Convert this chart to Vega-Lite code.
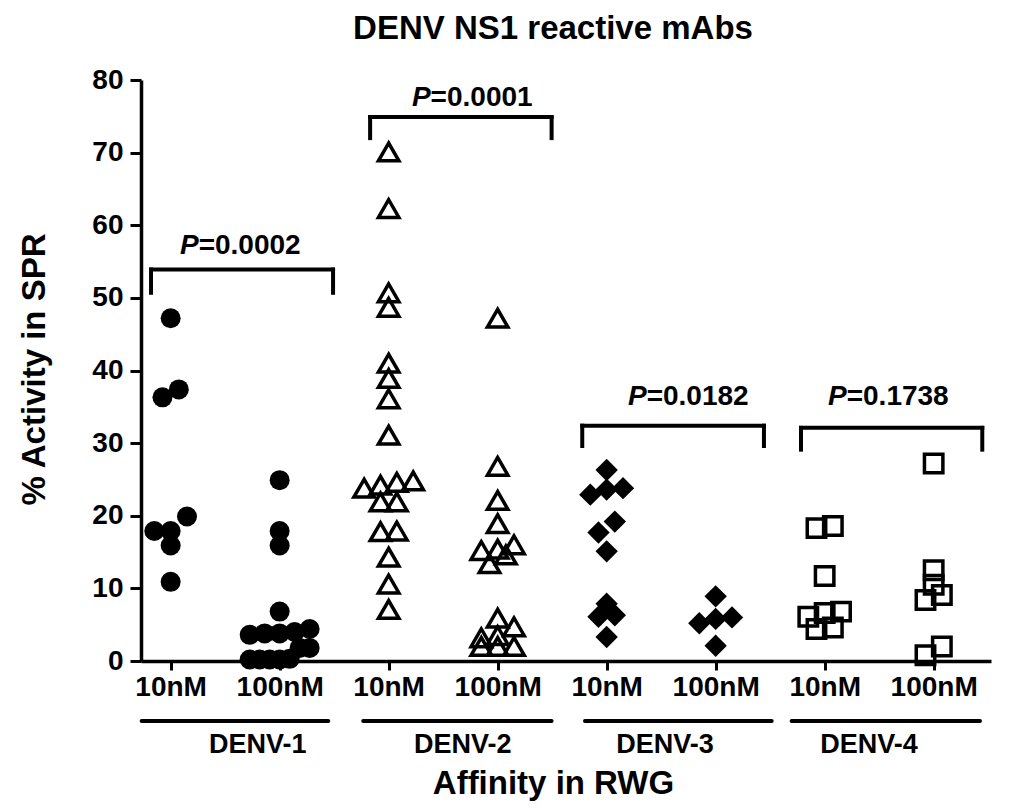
{
 "$schema": "https://vega.github.io/schema/vega-lite/v6.json",
 "autosize": {"type": "none"},
 "padding": {"left": 141, "top": 80, "right": 33, "bottom": 151},
 "width": 850,
 "height": 581,
 "background": "white",
 "config": {
  "view": {"stroke": null},
  "font": "Liberation Sans",
  "axis": {"domainColor": "black", "domainWidth": 3.5, "tickColor": "black", "tickWidth": 3, "tickSize": 9, "labelColor": "black", "labelFont": "Liberation Sans", "labelFontWeight": "bold", "titleColor": "black", "titleFont": "Liberation Sans", "titleFontWeight": "bold", "grid": false, "labelOverlap": false, "labelFlush": false, "labelBound": false}
 },
 "title": {"text": "DENV NS1 reactive mAbs", "font": "Liberation Sans", "fontSize": 33, "fontWeight": "bold", "color": "black", "anchor": "middle", "frame": "group", "dx": -13, "offset": 20},
 "datasets": {
  "pts": [
   {"serotype": "DENV-1", "affinity": "10nM", "value": 47.2},
   {"serotype": "DENV-1", "affinity": "10nM", "value": 37.4},
   {"serotype": "DENV-1", "affinity": "10nM", "value": 36.3},
   {"serotype": "DENV-1", "affinity": "10nM", "value": 19.9},
   {"serotype": "DENV-1", "affinity": "10nM", "value": 17.9},
   {"serotype": "DENV-1", "affinity": "10nM", "value": 17.9},
   {"serotype": "DENV-1", "affinity": "10nM", "value": 15.9},
   {"serotype": "DENV-1", "affinity": "10nM", "value": 10.9},
   {"serotype": "DENV-1", "affinity": "100nM", "value": 24.9},
   {"serotype": "DENV-1", "affinity": "100nM", "value": 17.9},
   {"serotype": "DENV-1", "affinity": "100nM", "value": 15.9},
   {"serotype": "DENV-1", "affinity": "100nM", "value": 6.8},
   {"serotype": "DENV-1", "affinity": "100nM", "value": 4.4},
   {"serotype": "DENV-1", "affinity": "100nM", "value": 4.0},
   {"serotype": "DENV-1", "affinity": "100nM", "value": 3.8},
   {"serotype": "DENV-1", "affinity": "100nM", "value": 3.8},
   {"serotype": "DENV-1", "affinity": "100nM", "value": 3.6},
   {"serotype": "DENV-1", "affinity": "100nM", "value": 1.8},
   {"serotype": "DENV-1", "affinity": "100nM", "value": 1.8},
   {"serotype": "DENV-1", "affinity": "100nM", "value": 0.3},
   {"serotype": "DENV-1", "affinity": "100nM", "value": 0.2},
   {"serotype": "DENV-1", "affinity": "100nM", "value": 0.2},
   {"serotype": "DENV-1", "affinity": "100nM", "value": 0.2},
   {"serotype": "DENV-1", "affinity": "100nM", "value": 0.2},
   {"serotype": "DENV-2", "affinity": "10nM", "value": 70.1},
   {"serotype": "DENV-2", "affinity": "10nM", "value": 62.3},
   {"serotype": "DENV-2", "affinity": "10nM", "value": 50.7},
   {"serotype": "DENV-2", "affinity": "10nM", "value": 48.7},
   {"serotype": "DENV-2", "affinity": "10nM", "value": 41.0},
   {"serotype": "DENV-2", "affinity": "10nM", "value": 38.9},
   {"serotype": "DENV-2", "affinity": "10nM", "value": 36.1},
   {"serotype": "DENV-2", "affinity": "10nM", "value": 31.1},
   {"serotype": "DENV-2", "affinity": "10nM", "value": 24.8},
   {"serotype": "DENV-2", "affinity": "10nM", "value": 24.6},
   {"serotype": "DENV-2", "affinity": "10nM", "value": 24.2},
   {"serotype": "DENV-2", "affinity": "10nM", "value": 23.8},
   {"serotype": "DENV-2", "affinity": "10nM", "value": 21.9},
   {"serotype": "DENV-2", "affinity": "10nM", "value": 21.9},
   {"serotype": "DENV-2", "affinity": "10nM", "value": 17.9},
   {"serotype": "DENV-2", "affinity": "10nM", "value": 17.8},
   {"serotype": "DENV-2", "affinity": "10nM", "value": 14.3},
   {"serotype": "DENV-2", "affinity": "10nM", "value": 10.6},
   {"serotype": "DENV-2", "affinity": "10nM", "value": 7.1},
   {"serotype": "DENV-2", "affinity": "100nM", "value": 47.2},
   {"serotype": "DENV-2", "affinity": "100nM", "value": 26.8},
   {"serotype": "DENV-2", "affinity": "100nM", "value": 22.1},
   {"serotype": "DENV-2", "affinity": "100nM", "value": 18.9},
   {"serotype": "DENV-2", "affinity": "100nM", "value": 16.0},
   {"serotype": "DENV-2", "affinity": "100nM", "value": 15.4},
   {"serotype": "DENV-2", "affinity": "100nM", "value": 15.2},
   {"serotype": "DENV-2", "affinity": "100nM", "value": 14.6},
   {"serotype": "DENV-2", "affinity": "100nM", "value": 13.4},
   {"serotype": "DENV-2", "affinity": "100nM", "value": 5.9},
   {"serotype": "DENV-2", "affinity": "100nM", "value": 4.7},
   {"serotype": "DENV-2", "affinity": "100nM", "value": 3.5},
   {"serotype": "DENV-2", "affinity": "100nM", "value": 3.2},
   {"serotype": "DENV-2", "affinity": "100nM", "value": 2.0},
   {"serotype": "DENV-2", "affinity": "100nM", "value": 2.0},
   {"serotype": "DENV-2", "affinity": "100nM", "value": 2.0},
   {"serotype": "DENV-3", "affinity": "10nM", "value": 26.3},
   {"serotype": "DENV-3", "affinity": "10nM", "value": 23.8},
   {"serotype": "DENV-3", "affinity": "10nM", "value": 23.6},
   {"serotype": "DENV-3", "affinity": "10nM", "value": 22.9},
   {"serotype": "DENV-3", "affinity": "10nM", "value": 19.2},
   {"serotype": "DENV-3", "affinity": "10nM", "value": 17.7},
   {"serotype": "DENV-3", "affinity": "10nM", "value": 15.1},
   {"serotype": "DENV-3", "affinity": "10nM", "value": 7.9},
   {"serotype": "DENV-3", "affinity": "10nM", "value": 6.3},
   {"serotype": "DENV-3", "affinity": "10nM", "value": 6.1},
   {"serotype": "DENV-3", "affinity": "10nM", "value": 3.3},
   {"serotype": "DENV-3", "affinity": "100nM", "value": 8.9},
   {"serotype": "DENV-3", "affinity": "100nM", "value": 6.0},
   {"serotype": "DENV-3", "affinity": "100nM", "value": 5.8},
   {"serotype": "DENV-3", "affinity": "100nM", "value": 5.2},
   {"serotype": "DENV-3", "affinity": "100nM", "value": 2.1},
   {"serotype": "DENV-4", "affinity": "10nM", "value": 18.6},
   {"serotype": "DENV-4", "affinity": "10nM", "value": 18.3},
   {"serotype": "DENV-4", "affinity": "10nM", "value": 11.7},
   {"serotype": "DENV-4", "affinity": "10nM", "value": 6.8},
   {"serotype": "DENV-4", "affinity": "10nM", "value": 6.6},
   {"serotype": "DENV-4", "affinity": "10nM", "value": 6.1},
   {"serotype": "DENV-4", "affinity": "10nM", "value": 4.6},
   {"serotype": "DENV-4", "affinity": "10nM", "value": 4.4},
   {"serotype": "DENV-4", "affinity": "100nM", "value": 27.2},
   {"serotype": "DENV-4", "affinity": "100nM", "value": 12.5},
   {"serotype": "DENV-4", "affinity": "100nM", "value": 10.5},
   {"serotype": "DENV-4", "affinity": "100nM", "value": 9.1},
   {"serotype": "DENV-4", "affinity": "100nM", "value": 8.4},
   {"serotype": "DENV-4", "affinity": "100nM", "value": 2.0},
   {"serotype": "DENV-4", "affinity": "100nM", "value": 0.8}
  ],
  "brackets": [
   {"pair": "DENV-1", "xa": 0.82, "xb": 2.49, "top": 53.9, "bot": 50.7},
   {"pair": "DENV-2", "xa": 2.83, "xb": 4.495, "top": 74.9, "bot": 72.0},
   {"pair": "DENV-3", "xa": 4.776, "xb": 6.443, "top": 32.4, "bot": 29.6},
   {"pair": "DENV-4", "xa": 6.783, "xb": 8.446, "top": 32.1, "bot": 29.1}
  ],
  "plabels": [
   {"x": 1.257, "y": 57.2, "text": "=0.0002"},
   {"x": 3.385, "y": 77.5, "text": "=0.0001"},
   {"x": 5.367, "y": 36.4, "text": "=0.0182"},
   {"x": 7.202, "y": 36.4, "text": "=0.1738"}
  ],
  "groups": [
   {"label": "DENV-1", "x1": 0.734, "x2": 2.446, "xm": 1.80},
   {"label": "DENV-2", "x1": 2.767, "x2": 4.495, "xm": 3.68},
   {"label": "DENV-3", "x1": 4.801, "x2": 6.514, "xm": 5.535},
   {"label": "DENV-4", "x1": 6.697, "x2": 8.425, "xm": 7.406}
  ]
 },
 "layer": [
  {
   "data": {"name": "pts"},
   "transform": [
    {"calculate": "indexof(['DENV-1','DENV-2','DENV-3','DENV-4'], datum.serotype) * 2 + (datum.affinity === '100nM' ? 2 : 1)", "as": "cat"},
    {"calculate": "floor(datum.value / 2.5)", "as": "bin"},
    {"joinaggregate": [{"op": "count", "as": "n"}], "groupby": ["cat", "bin"]},
    {"window": [{"op": "row_number", "as": "r"}], "groupby": ["cat", "bin"], "sort": [{"field": "value", "order": "ascending"}]},
    {"calculate": "datum.cat + (datum.r - (datum.n + 1) / 2) * min(0.15, 0.55 / max(1, datum.n - 1))", "as": "xpos"}
   ],
   "encoding": {
    "x": {"field": "xpos", "type": "quantitative", "title": "Affinity in RWG", "scale": {"domain": [0.728, 8.526], "nice": false, "zero": false},
     "axis": {"values": [1, 2, 3, 4, 5, 6, 7, 8], "labelExpr": "datum.value % 2 == 1 ? '10nM' : '100nM'", "labelFontSize": 28, "labelPadding": 3, "titleFontSize": 33, "titlePadding": 66, "titleX": 412}},
    "y": {"field": "value", "type": "quantitative", "title": "% Activity in SPR", "scale": {"domain": [0, 80], "nice": false, "zero": false},
     "axis": {"values": [0, 10, 20, 30, 40, 50, 60, 70, 80], "labelFontSize": 28, "labelPadding": 7, "tickSize": 11, "titleFontSize": 33, "titlePadding": 40, "titleY": 289}}
   },
   "layer": [
    {"transform": [{"filter": "datum.serotype === 'DENV-1'"}], "mark": {"type": "point", "shape": "circle", "filled": true, "color": "black", "size": 400, "opacity": 1}},
    {"transform": [{"filter": "datum.serotype === 'DENV-2'"}], "mark": {"type": "point", "shape": "triangle-up", "filled": false, "color": "black", "strokeWidth": 3.5, "size": 420, "opacity": 1}},
    {"transform": [{"filter": "datum.serotype === 'DENV-3'"}], "mark": {"type": "point", "shape": "diamond", "filled": true, "color": "black", "size": 500, "opacity": 1}},
    {"transform": [{"filter": "datum.serotype === 'DENV-4'"}], "mark": {"type": "point", "shape": "square", "filled": false, "color": "black", "strokeWidth": 3.5, "size": 340, "opacity": 1}}
   ]
  },
  {
   "data": {"name": "brackets"},
   "mark": {"type": "rule", "color": "black", "strokeWidth": 4, "strokeCap": "square"},
   "encoding": {"x": {"field": "xa", "type": "quantitative", "title": "Affinity in RWG"}, "x2": {"field": "xb"}, "y": {"field": "top", "type": "quantitative", "title": "% Activity in SPR"}}
  },
  {
   "data": {"name": "brackets"},
   "mark": {"type": "rule", "color": "black", "strokeWidth": 4, "strokeCap": "square"},
   "encoding": {"x": {"field": "xa", "type": "quantitative", "title": "Affinity in RWG"}, "y": {"field": "top", "type": "quantitative", "title": "% Activity in SPR"}, "y2": {"field": "bot"}}
  },
  {
   "data": {"name": "brackets"},
   "mark": {"type": "rule", "color": "black", "strokeWidth": 4, "strokeCap": "square"},
   "encoding": {"x": {"field": "xb", "type": "quantitative", "title": "Affinity in RWG"}, "y": {"field": "top", "type": "quantitative", "title": "% Activity in SPR"}, "y2": {"field": "bot"}}
  },
  {
   "data": {"name": "plabels"},
   "mark": {"type": "text", "text": "P", "font": "Liberation Sans", "fontStyle": "italic", "fontWeight": "bold", "fontSize": 28, "align": "right", "baseline": "middle", "color": "black"},
   "encoding": {"x": {"field": "x", "type": "quantitative", "title": "Affinity in RWG"}, "y": {"field": "y", "type": "quantitative", "title": "% Activity in SPR"}}
  },
  {
   "data": {"name": "plabels"},
   "mark": {"type": "text", "font": "Liberation Sans", "fontWeight": "bold", "fontSize": 28, "align": "left", "baseline": "middle", "color": "black"},
   "encoding": {"x": {"field": "x", "type": "quantitative", "title": "Affinity in RWG"}, "y": {"field": "y", "type": "quantitative", "title": "% Activity in SPR"}, "text": {"field": "text"}}
  },
  {
   "data": {"name": "groups"},
   "mark": {"type": "rule", "color": "black", "strokeWidth": 4, "strokeCap": "round"},
   "encoding": {"x": {"field": "x1", "type": "quantitative", "title": "Affinity in RWG"}, "x2": {"field": "x2"}, "y": {"datum": -8.26, "type": "quantitative", "title": "% Activity in SPR"}}
  },
  {
   "data": {"name": "groups"},
   "mark": {"type": "text", "font": "Liberation Sans", "fontWeight": "bold", "fontSize": 27, "align": "center", "baseline": "middle", "color": "black"},
   "encoding": {"x": {"field": "xm", "type": "quantitative", "title": "Affinity in RWG"}, "y": {"datum": -11.6, "type": "quantitative", "title": "% Activity in SPR"}, "text": {"field": "label"}}
  }
 ]
}
